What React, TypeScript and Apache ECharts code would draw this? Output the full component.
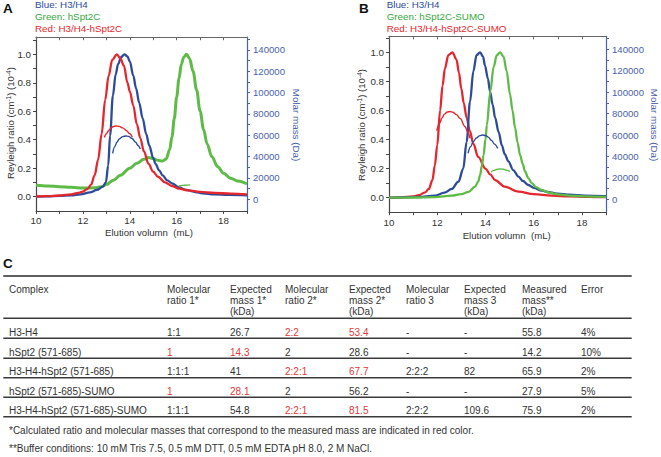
import React, { useEffect, useRef } from "react";
import * as echarts from "echarts";

const FONT = '"Liberation Sans", Arial, Helvetica, sans-serif';
const RED = "#e5262d";
const BLUE = "#2e4b9b";
const GREEN = "#5dbb46";
const AXBLUE = "#4a62aa";
const TXT = "#333333";
const TRED = "#e0393a";

// ---------- Panel A: Rayleigh ratio (10^-4) ----------
const aRedX = [10.0, 10.5, 11.0, 11.5, 11.8, 12.0, 12.2, 12.35, 12.5, 12.65, 12.8, 12.95, 13.1, 13.25, 13.45, 13.6, 13.75, 13.9, 14.0, 14.15, 14.3, 14.45, 14.6, 14.8, 15.0, 15.2, 15.5, 15.8, 16.1, 16.5, 17.0, 17.6, 18.3, 19.0];
const aRedY = [0.002, 0.004, 0.008, 0.016, 0.026, 0.036, 0.055, 0.085, 0.15, 0.26, 0.44, 0.68, 0.85, 0.96, 1.0, 0.97, 0.92, 0.8, 0.74, 0.64, 0.51, 0.41, 0.32, 0.23, 0.175, 0.14, 0.1, 0.075, 0.056, 0.044, 0.034, 0.027, 0.021, 0.016];
const aBlueX = [10.0, 10.5, 11.0, 11.5, 11.9, 12.3, 12.6, 12.85, 12.98, 13.08, 13.16, 13.28, 13.4, 13.5, 13.63, 13.77, 13.9, 14.0, 14.15, 14.27, 14.4, 14.55, 14.7, 14.83, 15.0, 15.1, 15.25, 15.4, 15.6, 15.8, 16.1, 16.4, 16.8, 17.1, 17.6, 18.2, 19.0];
const aBlueY = [0.0, 0.002, 0.005, 0.009, 0.016, 0.03, 0.047, 0.07, 0.1, 0.22, 0.43, 0.71, 0.86, 0.93, 0.98, 1.0, 0.985, 0.95, 0.85, 0.76, 0.66, 0.55, 0.44, 0.36, 0.27, 0.23, 0.185, 0.15, 0.115, 0.094, 0.065, 0.047, 0.032, 0.023, 0.016, 0.012, 0.009];
const aGreenX = [10.0, 10.5, 11.0, 11.5, 12.0, 12.5, 12.8, 13.0, 13.3, 13.6, 14.0, 14.3, 14.6, 14.8, 15.0, 15.2, 15.4, 15.55, 15.7, 15.8, 15.9, 16.0, 16.1, 16.2, 16.3, 16.42, 16.55, 16.7, 16.85, 17.0, 17.15, 17.3, 17.5, 17.75, 18.0, 18.3, 18.6, 19.0];
const aGreenY = [0.08, 0.075, 0.07, 0.066, 0.06, 0.062, 0.07, 0.085, 0.115, 0.15, 0.2, 0.235, 0.262, 0.275, 0.268, 0.255, 0.25, 0.265, 0.33, 0.42, 0.55, 0.7, 0.83, 0.93, 0.98, 1.0, 0.97, 0.88, 0.75, 0.6, 0.47, 0.37, 0.28, 0.21, 0.165, 0.13, 0.11, 0.09];
// Panel A: molar mass (Da)
const aRedMassX = [12.92, 13.0, 13.1, 13.2, 13.3, 13.41, 13.55, 13.7, 13.85, 14.0, 14.11];
const aRedMassY = [58000, 61500, 64500, 66800, 68200, 68700, 68400, 67000, 64500, 61500, 58100];
const aBlueMassX = [13.27, 13.35, 13.45, 13.55, 13.7, 13.83, 13.95, 14.1, 14.25, 14.35, 14.45];
const aBlueMassY = [43000, 49000, 53500, 56500, 58800, 59400, 59000, 57000, 53500, 50500, 47200];
const aGreenMassX = [16.09, 16.25, 16.4, 16.58];
const aGreenMassY = [12500, 13000, 13200, 13500];

// ---------- Panel B ----------
const bRedX = [10.0, 10.5, 11.0, 11.25, 11.5, 11.65, 11.8, 11.9, 12.0, 12.12, 12.22, 12.32, 12.46, 12.63, 12.8, 12.9, 13.0, 13.1, 13.22, 13.35, 13.5, 13.7, 14.0, 14.2, 14.4, 14.8, 15.37, 16.0, 16.75, 17.5, 18.2, 19.0];
const bRedY = [0.0, 0.002, 0.008, 0.018, 0.037, 0.06, 0.12, 0.22, 0.36, 0.6, 0.77, 0.89, 0.98, 1.0, 0.95, 0.86, 0.75, 0.65, 0.55, 0.46, 0.37, 0.28, 0.2, 0.16, 0.12, 0.076, 0.041, 0.024, 0.014, 0.009, 0.006, 0.004];
const bBlueX = [10.0, 10.6, 11.2, 11.9, 12.3, 12.6, 12.88, 13.08, 13.22, 13.36, 13.5, 13.63, 13.78, 13.9, 13.98, 14.1, 14.19, 14.3, 14.4, 14.55, 14.68, 14.8, 14.95, 15.15, 15.37, 15.55, 15.78, 16.0, 16.33, 16.7, 17.0, 17.5, 18.1, 19.0];
const bBlueY = [0.0, 0.002, 0.005, 0.014, 0.034, 0.06, 0.11, 0.2, 0.385, 0.66, 0.87, 0.98, 1.0, 0.97, 0.91, 0.82, 0.73, 0.64, 0.55, 0.45, 0.36, 0.3, 0.25, 0.19, 0.145, 0.115, 0.087, 0.068, 0.048, 0.036, 0.028, 0.02, 0.014, 0.01];
const bGreenX = [10.0, 11.0, 11.9, 12.6, 13.0, 13.3, 13.57, 13.7, 13.78, 13.85, 13.92, 14.0, 14.06, 14.2, 14.34, 14.47, 14.61, 14.75, 14.88, 15.02, 15.12, 15.23, 15.33, 15.44, 15.55, 15.64, 15.78, 15.92, 16.1, 16.33, 16.6, 17.0, 17.5, 18.1, 19.0];
const bGreenY = [0.0, 0.001, 0.004, 0.014, 0.025, 0.04, 0.076, 0.11, 0.156, 0.22, 0.29, 0.4, 0.5, 0.73, 0.9, 0.98, 1.0, 0.97, 0.87, 0.71, 0.6, 0.48, 0.38, 0.29, 0.23, 0.18, 0.135, 0.1, 0.072, 0.053, 0.036, 0.023, 0.014, 0.009, 0.005];
const bRedMassX = [11.98, 12.1, 12.2, 12.3, 12.42, 12.53, 12.65, 12.8, 12.95, 13.15, 13.27, 13.36];
const bRedMassY = [64000, 71000, 76000, 79500, 81500, 82000, 81300, 79000, 75500, 68000, 62500, 57000];
const bBlueMassX = [13.28, 13.38, 13.5, 13.62, 13.75, 13.88, 14.0, 14.12, 14.25, 14.38, 14.51];
const bBlueMassY = [43000, 49000, 54000, 57200, 59200, 60000, 59600, 58000, 55000, 51500, 47500];
const bGreenMassX = [14.23, 14.35, 14.5, 14.6, 14.75, 14.9, 15.02];
const bGreenMassY = [25500, 27000, 28000, 28300, 28000, 27000, 25800];

// ---------- Axis ticks ----------
const xLabels = [10, 12, 14, 16, 18];
const xTicks = [10, 11, 12, 13, 14, 15, 16, 17, 18, 19];
const yLabels = [0, 0.2, 0.4, 0.6, 0.8, 1.0];
const yTicks = [0, 0.1, 0.2, 0.3, 0.4, 0.5, 0.6, 0.7, 0.8, 0.9, 1.0, 1.1];
const massLabels = [0, 20000, 40000, 60000, 80000, 100000, 120000, 140000];
const massTicks = [0, 10000, 20000, 30000, 40000, 50000, 60000, 70000, 80000, 90000, 100000, 110000, 120000, 130000, 140000, 150000];

const legendA = ["Blue: H3/H4", "Green: hSpt2C", "Red: H3/H4-hSpt2C"];
const legendB = ["Blue: H3/H4", "Green: hSpt2C-SUMO", "Red: H3/H4-hSpt2C-SUMO"];

// ---------- Table ----------
const tableHeaders = ["Complex", "Molecular\nratio 1*", "Expected\nmass 1*\n(kDa)", "Molecular\nratio 2*", "Expected\nmass 2*\n(kDa)", "Molecular\nratio 3", "Expected\nmass 3\n(kDa)", "Measured\nmass**\n(kDa)", "Error"];
const complexes = ["H3-H4", "hSpt2 (571-685)", "H3-H4-hSpt2 (571-685)", "hSpt2 (571-685)-SUMO", "H3-H4-hSpt2 (571-685)-SUMO"];
const molRatio1 = ["1:1", "1", "1:1:1", "1", "1:1:1"];
const expMass1 = ["26.7", "14.3", "41", "28.1", "54.8"];
const molRatio2 = ["2:2", "2", "2:2:1", "2", "2:2:1"];
const expMass2 = ["53.4", "28.6", "67.7", "56.2", "81.5"];
const molRatio3 = ["-", "-", "2:2:2", "-", "2:2:2"];
const expMass3 = ["-", "-", "82", "-", "109.6"];
const measuredMass = ["55.8", "14.2", "65.9", "27.9", "75.9"];
const errorPct = ["4%", "10%", "2%", "5%", "2%"];
const matchedSet = [2, 1, 2, 1, 2]; // which (ratio, mass) pair is shown in red
const footnotes = [
  "*Calculated ratio and molecular masses that correspond to the measured mass are indicated in red color.",
  "**Buffer conditions: 10 mM Tris 7.5, 0.5 mM DTT, 0.5 mM EDTA pH 8.0, 2 M NaCl.",
];

const zip = (xs: number[], ys: number[]) => xs.map((x, i) => [x, ys[i]]);

function App() {
  const ref = useRef<HTMLDivElement>(null);
  useEffect(() => {
    if (!ref.current) return;
    const chart = echarts.init(ref.current, null, { renderer: "svg" });

    const grids = [
      { left: 36, top: 37.2, width: 211, height: 173.7 },
      { left: 389, top: 36.3, width: 217, height: 175.9 },
    ];
    const yRanges = [
      { lmin: -0.1, lmax: 1.12, rmin: -10900, rmax: 152000 },
      { lmin: -0.1, lmax: 1.11, rmin: -12040, rmax: 152130 },
    ];

    const xAxis: any[] = [];
    const yAxis: any[] = [];
    [0, 1].forEach((g) => {
      xAxis.push({
        type: "value", gridIndex: g, min: 10, max: 19, position: "bottom",
        axisLine: { show: true, onZero: false, lineStyle: { color: "#444", width: 1.2 } },
        axisTick: { show: true, length: 3, customValues: xTicks, lineStyle: { color: "#444" } },
        axisLabel: { show: true, customValues: xLabels, margin: 5, color: TXT, fontSize: 9.8, fontFamily: FONT },
        splitLine: { show: false },
      });
      xAxis.push({
        type: "value", gridIndex: g, min: 10, max: 19, position: "top",
        axisLine: { show: true, onZero: false, lineStyle: { color: "#666", width: 1 } },
        axisTick: { show: true, inside: true, length: 3, customValues: xTicks, lineStyle: { color: "#666" } },
        axisLabel: { show: false },
        splitLine: { show: false },
      });
      const r = yRanges[g];
      yAxis.push({
        type: "value", gridIndex: g, min: r.lmin, max: r.lmax, position: "left",
        axisLine: { show: true, onZero: false, lineStyle: { color: "#444", width: 1.2 } },
        axisTick: { show: true, length: 3, customValues: yTicks, lineStyle: { color: "#444" } },
        axisLabel: { show: true, customValues: yLabels, margin: 5, color: TXT, fontSize: 9.8, fontFamily: FONT, formatter: (v: number) => v.toFixed(1) },
        splitLine: { show: false },
      });
      yAxis.push({
        type: "value", gridIndex: g, min: r.rmin, max: r.rmax, position: "right",
        axisLine: { show: true, onZero: false, lineStyle: { color: AXBLUE, width: 1.2 } },
        axisTick: { show: true, length: 3, customValues: massTicks, lineStyle: { color: AXBLUE } },
        axisLabel: { show: true, customValues: massLabels, margin: 6, color: AXBLUE, fontSize: 9.6, fontFamily: FONT, formatter: (v: number) => String(v) },
        splitLine: { show: false },
      });
    });

    const line = (g: number, right: boolean, xs: number[], ys: number[], color: string, width: number) => ({
      type: "line",
      xAxisIndex: g * 2,
      yAxisIndex: g * 2 + (right ? 1 : 0),
      data: zip(xs, ys),
      showSymbol: false,
      smooth: 0.35,
      smoothMonotone: "x",
      lineStyle: { color, width },
      itemStyle: { color },
      silent: true,
    });

    const series = [
      line(0, false, aGreenX, aGreenY, GREEN, 3),
      line(0, false, aBlueX, aBlueY, BLUE, 2.3),
      line(0, false, aRedX, aRedY, RED, 2.3),
      line(0, true, aGreenMassX, aGreenMassY, GREEN, 1.4),
      line(0, true, aRedMassX, aRedMassY, RED, 1.4),
      line(0, true, aBlueMassX, aBlueMassY, BLUE, 1.4),
      line(1, false, bRedX, bRedY, RED, 2.3),
      line(1, false, bBlueX, bBlueY, BLUE, 2.3),
      line(1, false, bGreenX, bGreenY, GREEN, 2.3),
      line(1, true, bRedMassX, bRedMassY, RED, 1.4),
      line(1, true, bBlueMassX, bBlueMassY, BLUE, 1.4),
      line(1, true, bGreenMassX, bGreenMassY, GREEN, 1.4),
    ];

    const txt = (x: number, y: number, text: string, opts: any = {}) => ({
      type: "text",
      x, y,
      rotation: opts.rotation || 0,
      silent: true,
      style: {
        text,
        fill: opts.fill || TXT,
        fontSize: opts.fontSize || 9.8,
        fontFamily: FONT,
        fontWeight: opts.fontWeight || "normal",
        align: opts.align || "left",
        verticalAlign: opts.verticalAlign || "middle",
        lineHeight: opts.lineHeight,
        rich: opts.rich,
      },
    });

    const legendColors = [BLUE, "#3aa640", RED];
    const legendY = [4.5, 16.5, 28.5];
    const supRich = {
      s: { fontSize: 6.5, fontFamily: FONT, fill: TXT, verticalAlign: "top", padding: [0, 0, 4, 0] },
    };
    const graphics: any[] = [
      txt(3, 8.7, "A", { fontSize: 13.5, fontWeight: "bold", fill: "#111" }),
      txt(359, 8.2, "B", { fontSize: 13.5, fontWeight: "bold", fill: "#111" }),
      txt(3, 263.3, "C", { fontSize: 13.5, fontWeight: "bold", fill: "#111" }),
      ...legendA.map((t, i) => txt(35, legendY[i], t, { fill: legendColors[i] })),
      ...legendB.map((t, i) => txt(386.7, legendY[i], t, { fill: legendColors[i] })),
      txt(10, 123, "Reyleigh ratio (cm{s|-1}) (10{s|-4})", { align: "center", rotation: Math.PI / 2, rich: supRich, fontSize: 9.6 }),
      txt(361.7, 125, "Reyleigh ratio (cm{s|-1}) (10{s|-4})", { align: "center", rotation: Math.PI / 2, rich: supRich, fontSize: 9.6 }),
      txt(296, 125, "Molar mass (Da)", { align: "center", rotation: -Math.PI / 2, fill: AXBLUE }),
      txt(654, 125, "Molar mass (Da)", { align: "center", rotation: -Math.PI / 2, fill: AXBLUE }),
      txt(149, 232.7, "Elution volumn  (mL)", { align: "center", fontSize: 9.6 }),
      txt(506.7, 235.7, "Elution volumn  (mL)", { align: "center", fontSize: 9.6 }),
    ];

    // table
    const colX = [9, 167, 230, 285, 349, 406, 464, 522, 581];
    const ruleY = [276, 318.3, 338.3, 358.3, 377.7, 397.3, 416.7];
    const rowY = [332.7, 352.3, 371.7, 391, 410];
    ruleY.forEach((y, i) => {
      graphics.push({
        type: "line", silent: true,
        shape: { x1: 3.3, y1: y, x2: 631.7, y2: y },
        style: { stroke: i === 0 ? "#2a2a2a" : "#3a3a3a", lineWidth: i === 0 || i === 1 || i === 6 ? 1.6 : 1.4 },
      });
    });
    tableHeaders.forEach((h, c) => {
      graphics.push(txt(colX[c], 283.8, h, { fontSize: 10, verticalAlign: "top", lineHeight: 11.2 }));
    });
    const cols = [complexes, molRatio1, expMass1, molRatio2, expMass2, molRatio3, expMass3, measuredMass, errorPct];
    rowY.forEach((y, r) => {
      cols.forEach((col, c) => {
        const m = matchedSet[r];
        const isRed = (m === 1 && (c === 1 || c === 2)) || (m === 2 && (c === 3 || c === 4));
        graphics.push(txt(colX[c], y, col[r], { fontSize: 10, fill: isRed ? TRED : TXT }));
      });
    });
    graphics.push(txt(9, 430, footnotes[0], { fontSize: 10 }));
    graphics.push(txt(9, 448.3, footnotes[1], { fontSize: 10 }));

    chart.setOption({
      animation: false,
      backgroundColor: "#ffffff",
      textStyle: { fontFamily: FONT },
      grid: grids.map((g) => ({ ...g, containLabel: false })),
      xAxis,
      yAxis,
      series,
      graphic: graphics,
    });
    return () => chart.dispose();
  }, []);
  return (
    <div
      ref={ref}
      style={{ position: "absolute", left: 0, top: 0, width: 661, height: 457, background: "#fff" }}
    />
  );
}

export default App;
